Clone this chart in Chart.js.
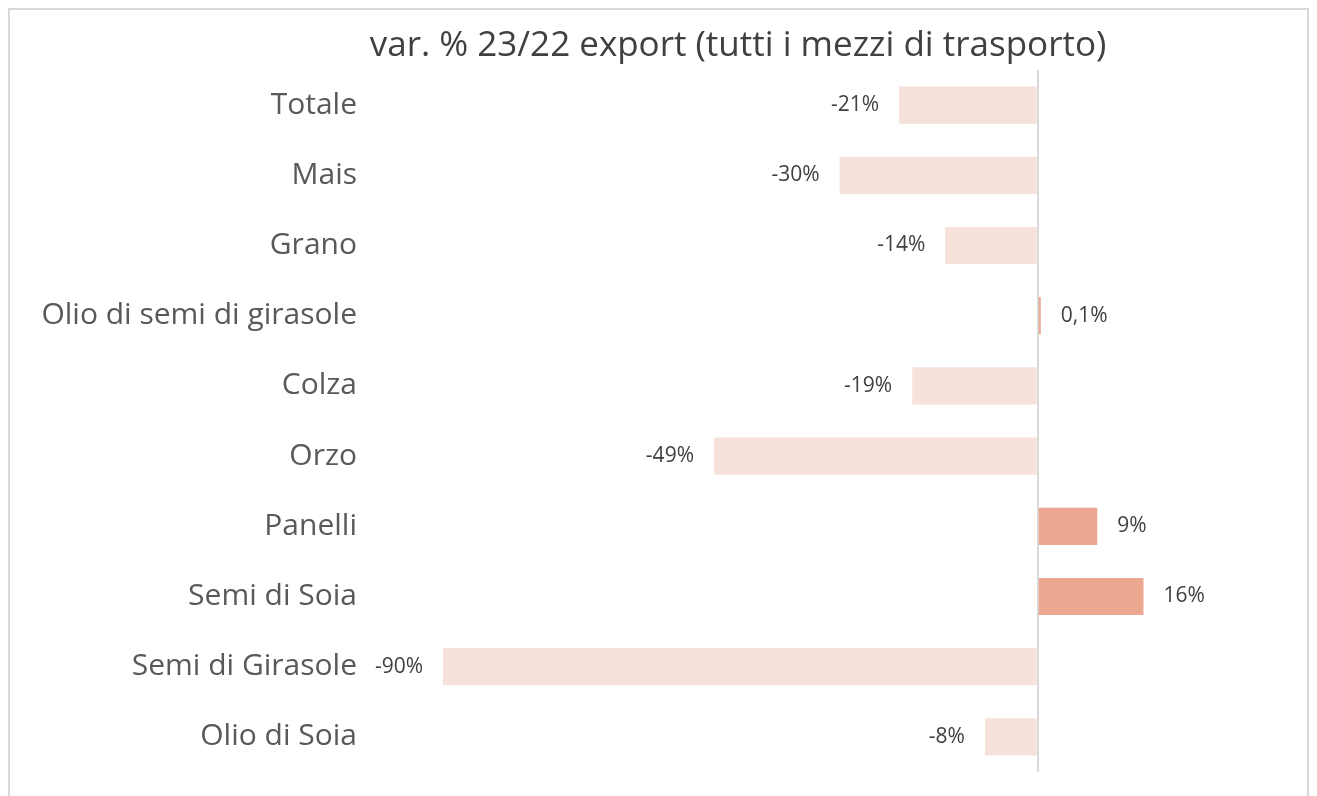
<!DOCTYPE html>
<html>
<head>
<meta charset="utf-8">
<script src="https://cdn.jsdelivr.net/npm/chart.js@4/dist/chart.umd.min.js"></script>
<style>
body{margin:0;background:#fff;}
#wrap{position:relative;width:1317px;height:796px;overflow:hidden;}
#frame{position:absolute;left:8px;top:8px;width:1301px;height:800px;border:2px solid #d9d9d9;box-sizing:border-box;}
canvas{position:absolute;left:0;top:0;}
</style>
</head>
<body>
<div id="wrap">
<div id="frame"></div>
<canvas id="chart" width="1317" height="796"></canvas>
</div>
<script>

let titleText = "var. % 23/22 export (tutti i mezzi di trasporto)"
let categories = ["Totale","Mais","Grano","Olio di semi di girasole","Colza","Orzo","Panelli","Semi di Soia","Semi di Girasole","Olio di Soia"]
let values = [-21,-30,-14,0.1,-19,-49,9,16,-90,-8]
let valueLabels = ["-21%","-30%","-14%","0,1%","-19%","-49%","9%","16%","-90%","-8%"]

let negColor = "#f6e2da"
let posColor = "#eca790"

// labels at the outer end of each bar + the title
let barLabels = {
id:"barLabels",
afterDatasetsDraw(chart){
let ctx = chart.ctx
let meta = chart.getDatasetMeta(0)
ctx.save()
ctx.font = "21px 'Open Sans'"
ctx.fillStyle = "#404040"
ctx.textBaseline = "middle"
meta.data.forEach((bar,i)=>{
let v = values[i]
if(v < 0){
ctx.textAlign = "right"
ctx.fillText(valueLabels[i], bar.x - 20, bar.y)
}else{
ctx.textAlign = "left"
ctx.fillText(valueLabels[i], bar.x + 20, bar.y)
}
})
ctx.font = "35px 'Open Sans'"
ctx.fillStyle = "#404040"
ctx.textAlign = "center"
ctx.fillText(titleText, 738, 46)
ctx.restore()
}
}

new Chart(document.getElementById("chart"),{

type:"bar",

data:{
labels:categories,
datasets:[{
data:values,
backgroundColor:values.map(v=> v < 0 ? negColor : posColor),
borderWidth:0,
minBarLength:3,
categoryPercentage:0.53,
barPercentage:1
}]
},

options:{
indexAxis:"y",
responsive:false,
animation:false,
layout:{padding:{left:0,right:81,top:70,bottom:24}},
plugins:{
legend:{display:false},
tooltip:{enabled:false},
title:{display:false}
},
scales:{
x:{
min:-100,
max:30,
afterFit:s=>{ s.height = 0 },
ticks:{display:false,stepSize:10},
border:{display:false},
grid:{
drawTicks:false,
lineWidth:2,
color:c=> c.tick && c.tick.value === 0 ? "#d9d9d9" : "rgba(0,0,0,0)"
}
},
y:{
afterFit:s=>{ s.width = 377; s.paddingTop = 0; s.paddingBottom = 0 },
ticks:{
color:"#595959",
padding:12,
font:{family:"Open Sans",size:30}
},
border:{display:false},
grid:{display:false}
}
}
},

plugins:[barLabels]

})

</script>
</body>
</html>
